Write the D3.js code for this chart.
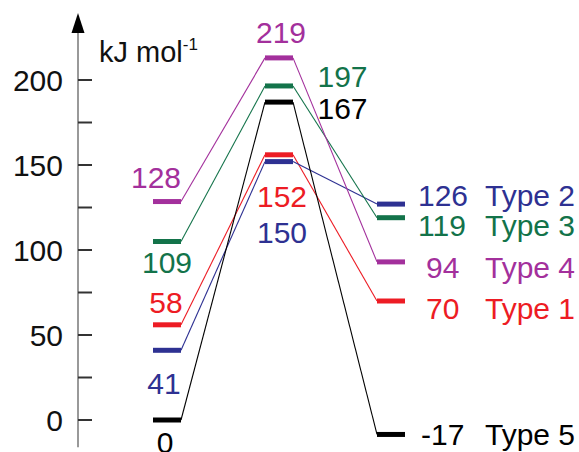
<!DOCTYPE html>
<html>
<head>
<meta charset="utf-8">
<script src="https://cdn.jsdelivr.net/npm/d3@7"></script>
<style>
  html, body { margin: 0; padding: 0; background: #fff; }
  svg { display: block; font-family: "Liberation Sans", Arial, Helvetica, sans-serif; }
</style>
</head>
<body>
<svg id="chart" width="579" height="452"></svg>
<script>
// ---- data ----
const stages = ["Reactant", "Transition state", "Product"];
const types = ["Type 1", "Type 2", "Type 3", "Type 4", "Type 5"];
// printed energies (kJ mol-1) for each stage
const type1Labels = [58, 152, 70];
const type2Labels = [41, 150, 126];
const type3Labels = [109, 197, 119];
const type4Labels = [128, 219, 94];
const type5Labels = [0, 167, -17];
// drawn level heights (as plotted in the picture, kJ mol-1)
const type1Levels = [56, 156, 70];
const type2Levels = [41, 152, 127];
const type3Levels = [105, 196.5, 119];
const type4Levels = [128.5, 213, 93];
const type5Levels = [0, 187, -8.5];
const yTicks = [0, 50, 100, 150, 200];
const yMinorTicks = [25, 75, 125, 175];
const axisUnit = "kJ mol";

const labelSets = [type1Labels, type2Labels, type3Labels, type4Labels, type5Labels];
const levelSets = [type1Levels, type2Levels, type3Levels, type4Levels, type5Levels];

// ---- styles ----
const colors = ["#ed1c24", "#2e3192", "#13734a", "#a3309c", "#000000"];
// label offsets relative to level (dx from stage centre, dy from level y)
const leftOffsets = [[-1, -11.5], [-3, 43.5], [0, 31], [-11, -13.5], [-2, 33]];
const midOffsets = [[3, 52], [3, 81], [63.5, 1], [2, -15], [63.5, 17]];
const rightOffsets = [[21, 17.5], [13, 2], [13, 18], [21, 16.5], [16, 11]];

const svg = d3.select("#chart");
const y = d3.scaleLinear().domain([0, 200]).range([420, 80]);
const x = d3.scalePoint().domain(stages).range([167, 391]);
const halfW = 14;
const fontSize = 30;

// ---- axis ----
const axisX = 78;
const axisG = svg.append("g");
axisG.append("line")
  .attr("x1", axisX).attr("x2", axisX)
  .attr("y1", y(-16)).attr("y2", 30)
  .attr("stroke", "#999").attr("stroke-width", 2);
axisG.append("path")
  .attr("d", `M${axisX - 6.5},33 L${axisX},13 L${axisX + 6.5},33 Z`)
  .attr("fill", "#000");
const ticks = yTicks.concat(yMinorTicks);
axisG.selectAll("line.tick").data(ticks).enter().append("line")
  .attr("class", "tick")
  .attr("x1", axisX).attr("x2", axisX + 14)
  .attr("y1", d => y(d)).attr("y2", d => y(d))
  .attr("stroke", "#333").attr("stroke-width", 2);
axisG.selectAll("text.tl").data(yTicks).enter().append("text")
  .attr("class", "tl")
  .attr("x", 63).attr("y", d => y(d))
  .attr("dy", "0.35em")
  .attr("text-anchor", "end")
  .attr("font-size", fontSize)
  .attr("fill", "#111")
  .text(d => d);
const unit = axisG.append("text")
  .attr("x", 99).attr("y", 62)
  .attr("font-size", 29)
  .attr("fill", "#111")
  .text(axisUnit);
unit.append("tspan").attr("font-size", 17).attr("dy", -12).text("-1");

// ---- connectors ----
types.forEach((t, i) => {
  const lv = levelSets[i];
  const g = svg.append("g");
  for (let s = 0; s < stages.length - 1; s++) {
    g.append("line")
      .attr("x1", x(stages[s]) + halfW).attr("y1", y(lv[s]))
      .attr("x2", x(stages[s + 1]) - halfW).attr("y2", y(lv[s + 1]))
      .attr("stroke", colors[i]).attr("stroke-width", 1.1);
  }
});

// ---- levels ----
types.forEach((t, i) => {
  const lv = levelSets[i];
  svg.append("g").selectAll("line").data(stages).enter().append("line")
    .attr("x1", s => x(s) - halfW).attr("x2", s => x(s) + halfW)
    .attr("y1", (s, k) => y(lv[k])).attr("y2", (s, k) => y(lv[k]))
    .attr("stroke", colors[i]).attr("stroke-width", 5);
});

// ---- labels ----
types.forEach((t, i) => {
  const lv = levelSets[i];
  const lb = labelSets[i];
  const g = svg.append("g").attr("fill", colors[i]).attr("font-size", fontSize);
  g.append("text")
    .attr("x", x(stages[0]) + leftOffsets[i][0])
    .attr("y", y(lv[0]) + leftOffsets[i][1])
    .attr("text-anchor", "middle").text(lb[0]);
  g.append("text")
    .attr("x", x(stages[1]) + midOffsets[i][0])
    .attr("y", y(lv[1]) + midOffsets[i][1])
    .attr("text-anchor", "middle").text(lb[1]);
  g.append("text")
    .attr("x", x(stages[2]) + halfW + rightOffsets[i][0])
    .attr("y", y(lv[2]) + rightOffsets[i][1])
    .attr("text-anchor", "start").text(lb[2]);
  g.append("text")
    .attr("x", 485)
    .attr("y", y(lv[2]) + rightOffsets[i][1])
    .attr("text-anchor", "start").text(t);
});
</script>
</body>
</html>
